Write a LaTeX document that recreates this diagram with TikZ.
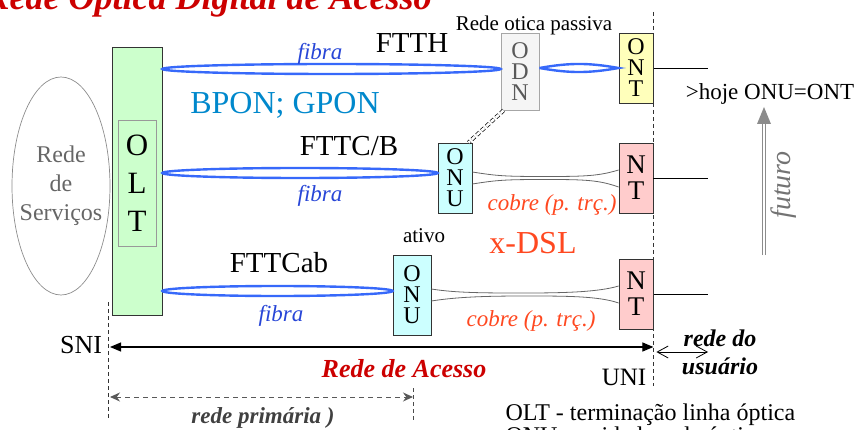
\documentclass[tikz,border=0pt]{standalone}
\usepackage{fontspec}
\setmainfont{Liberation Serif}
\usetikzlibrary{shapes.geometric,arrows.meta,calc}

\definecolor{titlered}{RGB}{204,0,0}
\definecolor{fiberblue}{RGB}{55,105,250}
\definecolor{fibretext}{RGB}{40,70,215}
\definecolor{bponblue}{RGB}{0,136,204}
\definecolor{copperred}{RGB}{255,72,32}
\definecolor{oltgreen}{RGB}{204,255,204}
\definecolor{onucyan}{RGB}{204,255,255}
\definecolor{ontyellow}{RGB}{255,255,187}
\definecolor{ntpink}{RGB}{255,204,204}

\newcommand{\sz}[2]{\fontsize{#1}{#2}\selectfont}

\tikzset{
    unit box/.style={
        draw=black!80, 
        line width=0.8pt, 
        inner sep=0pt, 
        align=center, 
        minimum width=34pt, 
        minimum height=70pt, 
        font=\sz{24}{21}},
    onu box/.style={
        unit box, 
        fill=onucyan},
    nt box/.style={
        unit box, 
        fill=ntpink, 
        font=\sz{27}{26}},
    ont box/.style={
        unit box, 
        fill=ontyellow},
    odn box/.style={
        unit box, 
        draw=black!35, 
        fill=black!4, 
        text=black!65, 
        minimum width=38pt, 
        minimum height=77pt},
    fiber/.style={
        draw=fiberblue, 
        line width=2.4pt},
    copper/.style={
        draw=black!60, 
        line width=0.8pt},
    fibre label/.style={
        text=fibretext, 
        font=\sz{23}{23}\itshape},
    cobre label/.style={
        text=copperred, 
        font=\sz{23}{23}\itshape},
    row label/.style={
        font=\sz{29}{29}},
    boundary/.style={
        draw=black!80, 
        line width=0.9pt, 
        dash pattern=on 4pt off 3pt},
    access arrow/.style={
        draw=black, 
        line width=1.1pt, 
        arrows={Triangle[length=11pt,width=9pt]-Triangle[length=11pt,width=9pt]}},
    user arrow/.style={
        draw=black, 
        line width=0.8pt, 
        arrows={Straight Barb[length=11pt,width=12pt]-Straight Barb[length=11pt,width=12pt]}},
    primary arrow/.style={
        draw=black!65, 
        line width=1pt, 
        dash pattern=on 5pt off 4pt, 
        arrows={Stealth[length=10pt,width=9pt]-Stealth[length=10pt,width=9pt]}},
    odn link/.style={
        draw=black, 
        line width=0.7pt, 
        double, 
        double distance=2.5pt, 
        dash pattern=on 4pt off 2.5pt}
}

\begin{document}
\begin{tikzpicture}[x=1pt, y=-1pt]
\useasboundingbox (0,0) rectangle (861,430);

\node [anchor=base east, text=titlered, font=\sz{36}{36}\bfseries\itshape] (title) at (435,10) {Rede Óptica Digital de Acesso};

\node [ellipse, draw=black!45, line width=0.7pt, minimum width=98pt, minimum height=218pt] (servicos) at (61,186) {};
\node [align=center, text=black!60, font=\sz{24}{29}] (servicos label) at (servicos) {Rede\\de\\Serviços};

\node [unit box, fill=oltgreen, minimum width=50pt, minimum height=268pt] (olt) at (137,181) {};
\node [unit box, draw=black!40, minimum width=38pt, minimum height=126pt, font=\sz{31}{38}] (olt label) at (137,183) {O\\L\\T};

\node [odn box] (odn) at (520,71.5) {O\\D\\N};
\node [ont box] (ont) at (636,68) {O\\N\\T};
\node [onu box] (onub) at (455,178) {O\\N\\U};
\node [nt box] (ntb) at (636,178) {N\\T};
\node [onu box, minimum width=38pt, minimum height=80pt] (onuc) at (412,295) {O\\N\\U};
\node [nt box] (ntc) at (636,294) {N\\T};

\foreach \far/\dy in {odn/-2.5, onub/-5, onuc/-4}{
    \draw [fiber] let \p1=(olt.east |- \far.west), \p2=(\far.west) in 
        ($(\p1)!0.5!(\p2)+(0,\dy)$) ellipse [x radius={(\x2-\x1)/2}, y radius=5pt];
}
\draw [fiber] (odn.east |- ont.west) to[bend left=10] (ont.west) to[bend left=10] (odn.east |- ont.west);

\foreach \onu/\nt in {onub/ntb, onuc/ntc}{
    \draw [copper] ([yshift=6pt]\onu.east) .. controls +(25,4) and +(-40,0) .. ($(\onu.east)!0.5!(\nt.west)+(0,-1.5)$) 
        .. controls +(40,0) and +(-20,6) .. ([yshift=8pt]\nt.west);
    \draw [copper] ([yshift=-6pt]\onu.east) .. controls +(25,-4) and +(-40,0) .. ($(\onu.east)!0.5!(\nt.west)+(0,1.5)$) 
        .. controls +(40,0) and +(-20,-7) .. ([yshift=-9pt]\nt.west);
}

\draw [odn link] ([xshift=3pt]odn.south west) -- ([xshift=-4pt]onub.north east);

\foreach \term in {ont, ntb, ntc}{
    \draw [line width=0.8pt] (\term.east) -- ++(55,0);
}

\node [fibre label] (fibra a) at (320,54) {fibra};
\node [fibre label] (fibra b) at (320,196) {fibra};
\node [fibre label] (fibra c) at (281,316) {fibra};
\node [row label] (ftth) at (412,43) {FTTH};
\node [row label] (fttcb) at (349,146) {FTTC/B};
\node [row label] (fttcab) at (279,263) {FTTCab};
\node [text=bponblue, font=\sz{32}{32}] (bpon) at (285,105) {BPON; GPON};
\node [font=\sz{21}{21}] (passiva) at (534,25) {Rede otica passiva};
\node [font=\sz{23}{23}] (hoje) at (770,94) {>hoje ONU=ONT};
\node [font=\sz{21}{21}] (ativo) at (424,236) {ativo};
\node [text=copperred, font=\sz{32}{32}] (xdsl) at (533,243) {x-DSL};
\node [cobre label] (cobre b) at (552,205) {cobre (p. trç.)};
\node [cobre label] (cobre c) at (531,321) {cobre (p. trç.)};

\coordinate (fut base) at (764,255);
\coordinate (fut tip) at (764,107);
\draw [draw=black!45, line width=0.9pt, double=white, double distance=1.6pt] (fut base) -- ([yshift=-15pt]fut tip);
\fill [black!45] (fut tip) -- ++(-7,17) -- ++(14,0) -- cycle;
\node [text=black!55, rotate=90, font=\sz{28}{28}\itshape] (futuro) at (784,185) {futuro};

\draw [boundary] (ont.east |- 0,12) -- (ont.east |- 0,386);
\draw [boundary] (108,302) -- (108,418);
\draw [boundary, draw=black!70] (413,388) -- (413,420);

\node [font=\sz{26}{26}] (sni label) at (81,345) {SNI};
\node [font=\sz{25}{25}] (uni label) at (624,377) {UNI};

\coordinate (sni) at (110,347);
\coordinate (uni) at (ont.east |- sni);
\draw [access arrow] (sni) -- (uni);
\node [text=titlered, font=\sz{26}{26}\bfseries\itshape] (acesso) at (404,369) {Rede de Acesso};

\coordinate (usr) at (708,352);
\draw [user arrow] ([xshift=3pt]uni |- usr) -- (usr);
\node [align=center, font=\sz{24}{28}\bfseries\itshape] (usuario) at (720,352) {rede do\\usuário};

\coordinate (prim a) at (110,397);
\coordinate (prim b) at (413,397);
\draw [primary arrow] (prim a) -- (prim b);
\node [text=black!75, font=\sz{23}{23}\bfseries\itshape] (primaria) at (263,418) {rede primária )};

\node [anchor=base west, align=left, font=\sz{24}{21}] (legend) at (502,443) {OLT - terminação linha óptica\\ONU - unidade rede óptica};

\end{tikzpicture}
\end{document}
